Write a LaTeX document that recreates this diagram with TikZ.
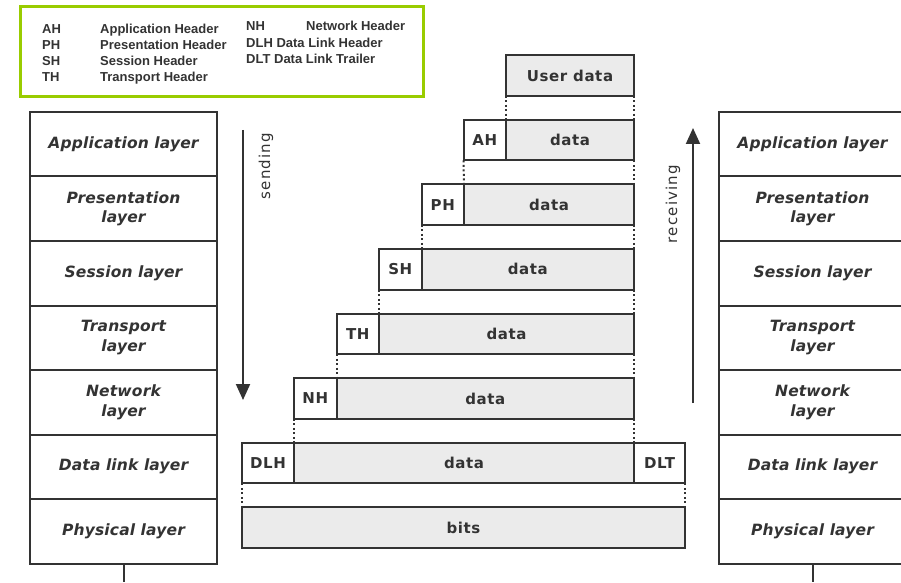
\documentclass[tikz,border=0pt]{standalone}
\usepackage{fontspec}
\usetikzlibrary{positioning,arrows.meta}

\newfontfamily\layerfont{DejaVu Sans}[BoldFont={DejaVu Sans Bold},BoldItalicFont={DejaVu Sans Bold Oblique},LetterSpace=1]
\newfontfamily\boxfont{DejaVu Sans}[BoldFont={DejaVu Sans Bold},LetterSpace=4]
\newfontfamily\flowfont{DejaVu Sans}[LetterSpace=8]
\newfontfamily\legendfont{Liberation Sans}

\definecolor{linegray}{HTML}{333333}
\definecolor{datafill}{HTML}{EBEBEB}
\definecolor{legendgreen}{HTML}{99CC00}

\tikzset{
    layerbox/.style={draw=linegray, line width=2pt, minimum width=187pt, minimum height=64.5pt,
        outer sep=0pt, align=center, text=linegray,
        font=\layerfont\bfseries\itshape\fontsize{15.5}{19.5}\selectfont},
    pktbox/.style={draw=linegray, line width=2pt, minimum height=40.5pt, outer sep=0pt, inner sep=0pt,
        text=linegray, font=\boxfont\bfseries\fontsize{15}{17}\selectfont},
    databox/.style={pktbox, fill=datafill},
    hdrbox/.style={pktbox, fill=white, minimum width=42.5pt},
    linkdots/.style={draw=linegray, line width=2pt, dash pattern=on 2pt off 2.5pt},
    flowarrow/.style={draw=linegray, line width=2pt, -{Triangle[width=14pt,length=16pt]}},
    flowlabel/.style={text=linegray, rotate=90, inner sep=0pt, font=\flowfont\fontsize{15}{17}\selectfont},
    legendtext/.style={text=linegray, anchor=base west, inner sep=0pt, font=\legendfont\bfseries\fontsize{13}{15}\selectfont},
}

\begin{document}
\begin{tikzpicture}[x=1pt,y=1pt]
    \useasboundingbox (0,0) rectangle (901,582);
    \clip (0,0) rectangle (901,582);

    % legend
    \node [draw=legendgreen, line width=3pt, minimum width=403pt, minimum height=90pt] (legend) at (221.5,530) {};
    \node [legendtext] (kAH) at (42,548.4) {AH};
    \node [legendtext] (kPH) at (42,532.4) {PH};
    \node [legendtext] (kSH) at (42,516.4) {SH};
    \node [legendtext] (kTH) at (42,500.4) {TH};
    \node [legendtext] (tAH) at (100,548.4) {Application Header};
    \node [legendtext] (tPH) at (100,532.4) {Presentation Header};
    \node [legendtext] (tSH) at (100,516.4) {Session Header};
    \node [legendtext] (tTH) at (100,500.4) {Transport Header};
    \node [legendtext] (kNH) at (246,551.4) {NH};
    \node [legendtext] (tNH) at (306,551.4) {Network Header};
    \node [legendtext] (tDLH) at (246,534.4) {DLH Data Link Header};
    \node [legendtext] (tDLT) at (246,518.4) {DLT Data Link Trailer};

    % sending stack
    \node [layerbox] (lapp) at (123.5,437.75) {Application layer};
    \node [layerbox, below=0pt of lapp] (lpres) {Presentation\\layer};
    \node [layerbox, below=0pt of lpres] (lsess) {Session layer};
    \node [layerbox, below=0pt of lsess] (ltrans) {Transport\\layer};
    \node [layerbox, below=0pt of ltrans] (lnet) {Network\\layer};
    \node [layerbox, below=0pt of lnet] (llink) {Data link layer};
    \node [layerbox, below=0pt of llink] (lphys) {Physical layer};
    \coordinate (lbase) at (lphys.south |- 0,0);
    \draw [draw=linegray, line width=2pt] (lphys.south) -- (lbase);

    % receiving stack
    \node [layerbox] (rapp) at (812.5,437.75) {Application layer};
    \node [layerbox, below=0pt of rapp] (rpres) {Presentation\\layer};
    \node [layerbox, below=0pt of rpres] (rsess) {Session layer};
    \node [layerbox, below=0pt of rsess] (rtrans) {Transport\\layer};
    \node [layerbox, below=0pt of rtrans] (rnet) {Network\\layer};
    \node [layerbox, below=0pt of rnet] (rlink) {Data link layer};
    \node [layerbox, below=0pt of rlink] (rphys) {Physical layer};
    \coordinate (rbase) at (rphys.south |- 0,0);
    \draw [draw=linegray, line width=2pt] (rphys.south) -- (rbase);

    % direction arrows
    \coordinate (sendtop) at (243,452);
    \coordinate (sendbot) at (243,182);
    \draw [flowarrow] (sendtop) -- (sendbot);
    \node [flowlabel] (sending) at (266,416) {sending};
    \coordinate (recvbot) at (693,179);
    \coordinate (recvtop) at (693,454);
    \draw [flowarrow] (recvbot) -- (recvtop);
    \node [flowlabel] (receiving) at (673,378) {receiving};

    % packets
    \node [databox, minimum width=128pt, anchor=east] (user) at (634,506.5) {User data};
    \node [databox, minimum width=128pt, below=24.1pt of user.south east, anchor=north east] (dAH) {data};
    \node [hdrbox, left=0pt of dAH] (hAH) {AH};
    \node [databox, minimum width=170pt, below=24.1pt of dAH.south east, anchor=north east] (dPH) {data};
    \node [hdrbox, left=0pt of dPH] (hPH) {PH};
    \node [databox, minimum width=212.5pt, below=24.1pt of dPH.south east, anchor=north east] (dSH) {data};
    \node [hdrbox, left=0pt of dSH] (hSH) {SH};
    \node [databox, minimum width=255pt, below=24.1pt of dSH.south east, anchor=north east] (dTH) {data};
    \node [hdrbox, left=0pt of dTH] (hTH) {TH};
    \node [databox, minimum width=297.5pt, below=24.1pt of dTH.south east, anchor=north east] (dNH) {data};
    \node [hdrbox, left=0pt of dNH] (hNH) {NH};
    \node [databox, minimum width=340pt, below=24.1pt of dNH.south east, anchor=north east] (dDL) {data};
    \node [hdrbox, minimum width=52pt, left=0pt of dDL] (hDL) {DLH};
    \node [hdrbox, minimum width=51pt, right=0pt of dDL] (tDL) {DLT};
    \node [databox, minimum width=443pt, below=24.1pt of hDL.south west, anchor=north west] (bits) {bits};

    \draw [linkdots] (user.south west) -- (hAH.north east);
    \draw [linkdots] (user.south east) -- (dAH.north east);
    \draw [linkdots] (hAH.south west) -- (hPH.north east);
    \draw [linkdots] (dAH.south east) -- (dPH.north east);
    \draw [linkdots] (hPH.south west) -- (hSH.north east);
    \draw [linkdots] (dPH.south east) -- (dSH.north east);
    \draw [linkdots] (hSH.south west) -- (hTH.north east);
    \draw [linkdots] (dSH.south east) -- (dTH.north east);
    \draw [linkdots] (hTH.south west) -- (hNH.north east);
    \draw [linkdots] (dTH.south east) -- (dNH.north east);
    \draw [linkdots] (hNH.south west) -- (hDL.north east);
    \draw [linkdots] (dNH.south east) -- (dDL.north east);
    \draw [linkdots] (hDL.south west) -- (bits.north west);
    \draw [linkdots] (tDL.south east) -- (bits.north east);
\end{tikzpicture}
\end{document}
